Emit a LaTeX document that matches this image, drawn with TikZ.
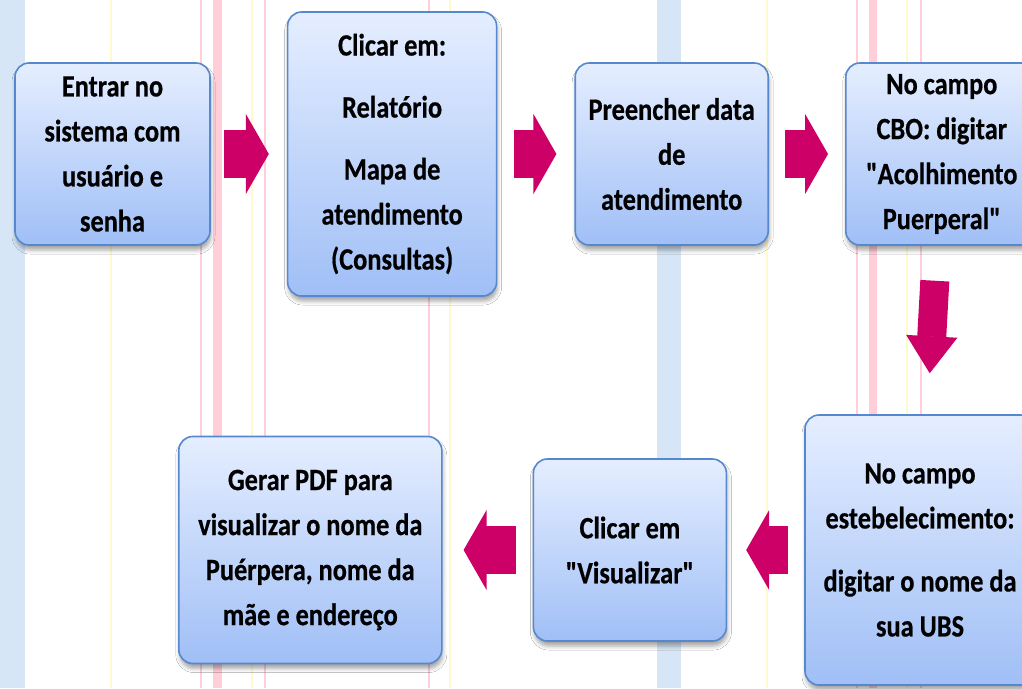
\documentclass[tikz,border=0pt]{standalone}
\usepackage{fontspec}
\newfontfamily\boxfont{Carlito}[FakeStretch=0.85,FakeBold=0.5]
\usetikzlibrary{arrows.meta,positioning,shadows.blur}

\definecolor{fundoazul}{RGB}{214,230,246}
\definecolor{fundorosa}{RGB}{255,206,216}
\definecolor{fundoamarelo}{RGB}{255,250,205}
\definecolor{caixatopo}{RGB}{229,238,255}
\definecolor{caixabase}{RGB}{160,191,246}
\definecolor{caixaborda}{RGB}{86,136,206}
\definecolor{corseta}{RGB}{204,0,102}

\begin{document}
\begin{tikzpicture}[x=1pt,y=-1pt,auto,node distance=76pt]

      \tikzstyle{etapa}=[rectangle,rounded corners=14pt,draw=caixaborda,line width=1.6pt,top color=caixatopo,bottom color=caixabase,align=center,font=\boxfont\bfseries\fontsize{31}{45}\selectfont,blur shadow={shadow xshift=1pt,shadow yshift=-5pt,shadow blur radius=4pt,shadow opacity=35}]
      \tikzstyle{seta}=[color=corseta,line width=48pt,-{Triangle[length=23pt,width=80pt,line width=1.5pt]}]
      \tikzstyle{setabaixo}=[color=corseta,line width=29pt,-{Triangle[length=37pt,width=51pt,line width=1.5pt]}]

      % fundo com as faixas verticais
      \fill[white] (0,0) rectangle (1022,688);
      \useasboundingbox (0,0) rectangle (1022,688);
      \fill[fundoazul] (0,0) rectangle (25,688);
      \fill[fundoazul] (657,0) rectangle (681,688);
      \fill[fundorosa] (213,0) rectangle (222,688);
      \fill[fundorosa] (869,0) rectangle (877,688);
      \foreach \x in {201,265,429,857,921}
        \draw[fundorosa,line width=1.5pt] (\x,0) -- (\x,688);
      \foreach \x in {111,252,450,767,907}
        \draw[fundoamarelo,line width=2pt] (\x,0) -- (\x,688);

      \node[etapa,minimum width=195pt,minimum height=182pt] (A) at (112.5,154) {Entrar no\\sistema com\\usuário e\\senha};
      \node[etapa,minimum width=209pt,minimum height=284pt] (B) [right=76pt of A] {Clicar em:\\[17pt]Relatório\\[17pt]Mapa de\\atendimento\\(Consultas)};
      \node[etapa,minimum width=193pt,minimum height=182pt] (C) [right=77pt of B] {Preencher data\\de\\atendimento};
      \node[etapa,minimum width=192pt,minimum height=182pt] (D) [right=76pt of C] {No campo\\CBO: digitar\\"Acolhimento\\Puerperal"};

      \node[etapa,minimum width=230pt,minimum height=270pt] (E) at (920,550) {No campo\\estebelecimento:\\[18pt]digitar o nome da\\sua UBS};
      \node[etapa,minimum width=193pt,minimum height=182pt] (F) [left=77pt of E] {Clicar em\\"Visualizar"};
      \node[etapa,minimum width=263pt,minimum height=227pt] (G) [left=90pt of F] {Gerar PDF para\\visualizar o nome da\\Puérpera, nome da\\mãe e endereço};

      \path [seta] (A) edge[shorten <=13pt,shorten >=18pt] (B);
      \path [seta] (B) edge[shorten <=17pt,shorten >=18pt] (C);
      \path [seta] (C) edge[shorten <=16pt,shorten >=17pt] (D);
      \path [setabaixo] (D) edge[shorten <=35pt,shorten >=41pt] (E);
      \path [seta] (E) edge[shorten <=16pt,shorten >=19pt] (F);
      \path [seta] (F) edge[shorten <=17pt,shorten >=21pt] (G);
    \end{tikzpicture}
\end{document}
